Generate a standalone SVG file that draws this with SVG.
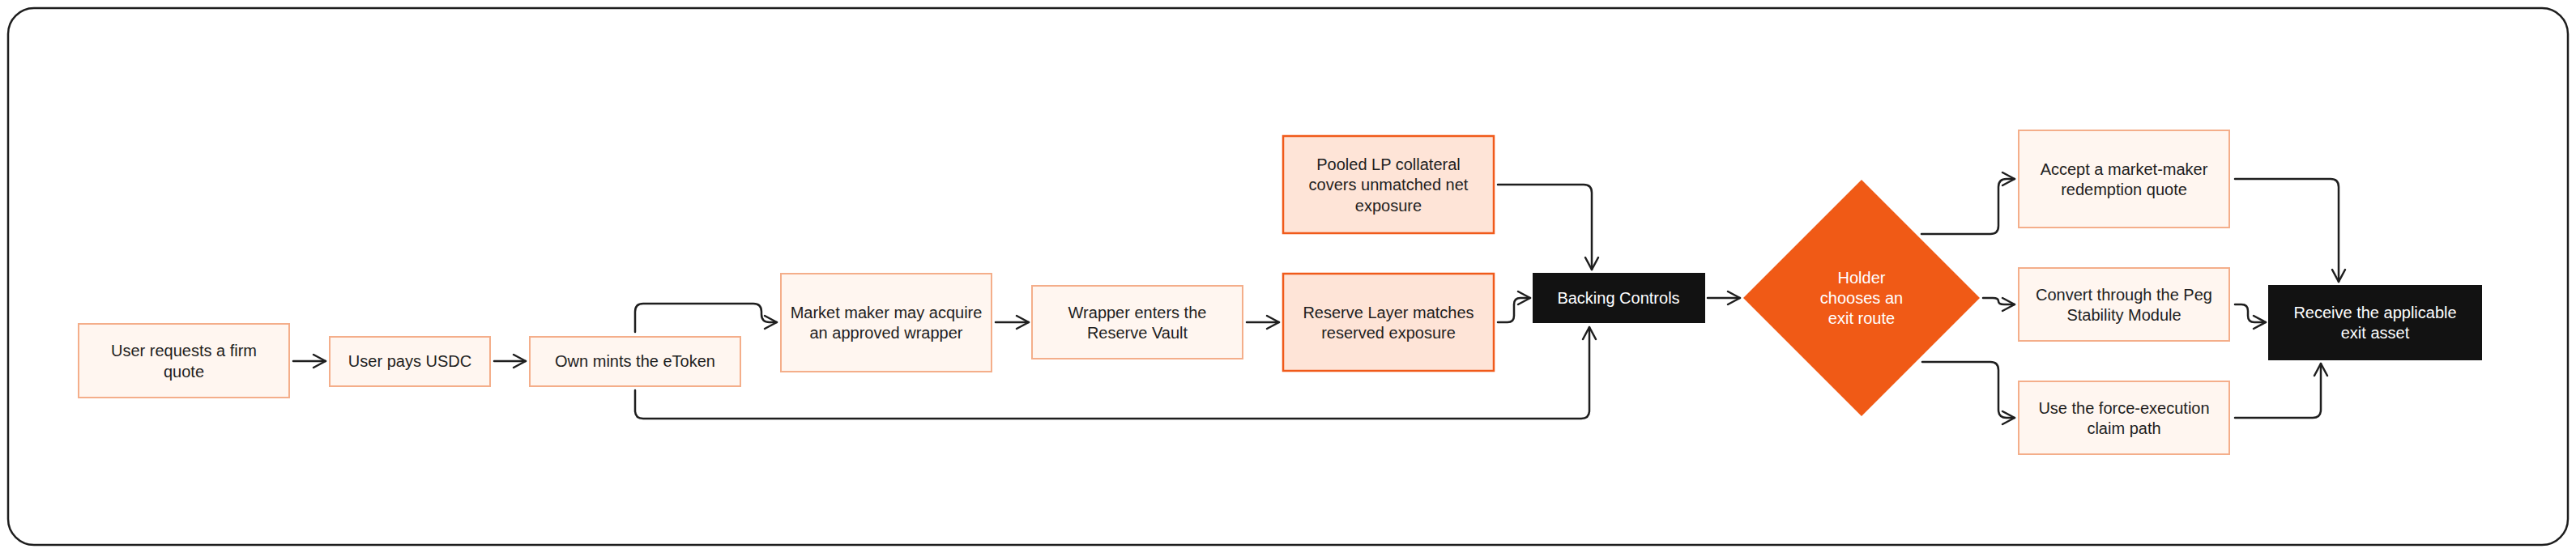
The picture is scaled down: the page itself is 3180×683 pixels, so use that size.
<svg xmlns="http://www.w3.org/2000/svg" width="3180" height="683" viewBox="0 0 3180 683">
<defs>
<style>
.frame{fill:#ffffff;stroke:#1e1e1e;stroke-width:2.5}
.lb{fill:#fff6f0;stroke:#f4ae8a;stroke-width:2}
.db{fill:#fee4d7;stroke:#f05a1a;stroke-width:2.5}
.bk{fill:#121212;stroke:#121212;stroke-width:2}
.dm{fill:#f05a16;stroke:none}
text{font-family:"Liberation Sans",Arial,sans-serif;font-size:20px;fill:#1e1e1e;text-anchor:middle;dominant-baseline:central}
text.w{fill:#ffffff}
.cn path{fill:none;stroke:#1e1e1e;stroke-width:2.5;stroke-linecap:round;stroke-linejoin:round}
</style>
<marker id="ah" viewBox="0 0 20 20" refX="18" refY="10" markerWidth="20" markerHeight="20" markerUnits="userSpaceOnUse" orient="auto">
<path d="M3,2 L18,10 L3,18" fill="none" stroke="#1e1e1e" stroke-width="2.5" stroke-linecap="round" stroke-linejoin="round"/>
</marker>
</defs>
<rect class="frame" x="10" y="10" width="3160" height="663" rx="32" ry="32"/>
<g class="cn">
<path d="M362,446 L402,446" marker-end="url(#ah)"/>
<path d="M610,446 L649,446" marker-end="url(#ah)"/>
<path d="M784,410 L784,385 Q784,375 794,375 L930,375 Q940,375 940,385 L940,388 Q940,398 950,398 L959,398" marker-end="url(#ah)"/>
<path d="M784,482 L784,507 Q784,517 794,517 L1952,517 Q1962,517 1962,507 L1962,404" marker-end="url(#ah)"/>
<path d="M1229,398 L1270,398" marker-end="url(#ah)"/>
<path d="M1539,398 L1579,398" marker-end="url(#ah)"/>
<path d="M1849,398 L1861,398 Q1869,398 1869,390 L1869,376 Q1869,368 1877,368 L1889,368" marker-end="url(#ah)"/>
<path d="M1849,228 L1955,228 Q1965,228 1965,238 L1965,333" marker-end="url(#ah)"/>
<path d="M2108,368 L2148,368" marker-end="url(#ah)"/>
<path d="M2372,289 L2457,289 Q2467,289 2467,279 L2467,231 Q2467,221 2477,221 L2487,221" marker-end="url(#ah)"/>
<path d="M2448,368 L2460,368 Q2467,368 2467,372 Q2467,376 2474,376 L2487,376" marker-end="url(#ah)"/>
<path d="M2373,447 L2457,447 Q2467,447 2467,457 L2467,506 Q2467,516 2477,516 L2487,516" marker-end="url(#ah)"/>
<path d="M2759,221 L2877,221 Q2887,221 2887,231 L2887,348" marker-end="url(#ah)"/>
<path d="M2759,376 L2767,376 Q2775,376 2775,384 L2775,390 Q2775,398 2783,398 L2797,398" marker-end="url(#ah)"/>
<path d="M2759,516 L2855,516 Q2865,516 2865,506 L2865,449" marker-end="url(#ah)"/>
</g>
<g id="n1"><rect class="lb" x="97" y="400" width="260" height="91"/><text x="227" y="433">User requests a firm</text><text x="227" y="459">quote</text></g>
<g id="n2"><rect class="lb" x="407" y="416" width="198" height="61"/><text x="506" y="446">User pays USDC</text></g>
<g id="n3"><rect class="lb" x="654" y="416" width="260" height="61"/><text x="784" y="446">Own mints the eToken</text></g>
<g id="n4"><rect class="lb" x="964" y="338" width="260" height="121"/><text x="1094" y="386">Market maker may acquire</text><text x="1094" y="411">an approved wrapper</text></g>
<g id="n5"><rect class="lb" x="1274" y="353" width="260" height="90"/><text x="1404" y="386">Wrapper enters the</text><text x="1404" y="411">Reserve Vault</text></g>
<g id="n6"><rect class="db" x="1584" y="338" width="260" height="120"/><text x="1714" y="386">Reserve Layer matches</text><text x="1714" y="411">reserved exposure</text></g>
<g id="n7"><rect class="db" x="1584" y="168" width="260" height="120"/><text x="1714" y="203">Pooled LP collateral</text><text x="1714" y="228">covers unmatched net</text><text x="1714" y="254">exposure</text></g>
<g id="n8"><rect class="bk" x="1893" y="338" width="211" height="60"/><text class="w" x="1998" y="368">Backing Controls</text></g>
<g id="n9"><polygon class="dm" points="2298,222 2444,368 2298,514 2152,368"/><text class="w" x="2298" y="343">Holder</text><text class="w" x="2298" y="368">chooses an</text><text class="w" x="2298" y="393">exit route</text></g>
<g id="n10"><rect class="lb" x="2492" y="161" width="260" height="120"/><text x="2622" y="209">Accept a market-maker</text><text x="2622" y="234">redemption quote</text></g>
<g id="n11"><rect class="lb" x="2492" y="331" width="260" height="90"/><text x="2622" y="364">Convert through the Peg</text><text x="2622" y="389">Stability Module</text></g>
<g id="n12"><rect class="lb" x="2492" y="471" width="260" height="90"/><text x="2622" y="504">Use the force-execution</text><text x="2622" y="529">claim path</text></g>
<g id="n13"><rect class="bk" x="2801" y="353" width="262" height="91"/><text class="w" x="2932" y="386">Receive the applicable</text><text class="w" x="2932" y="411">exit asset</text></g>
</svg>
